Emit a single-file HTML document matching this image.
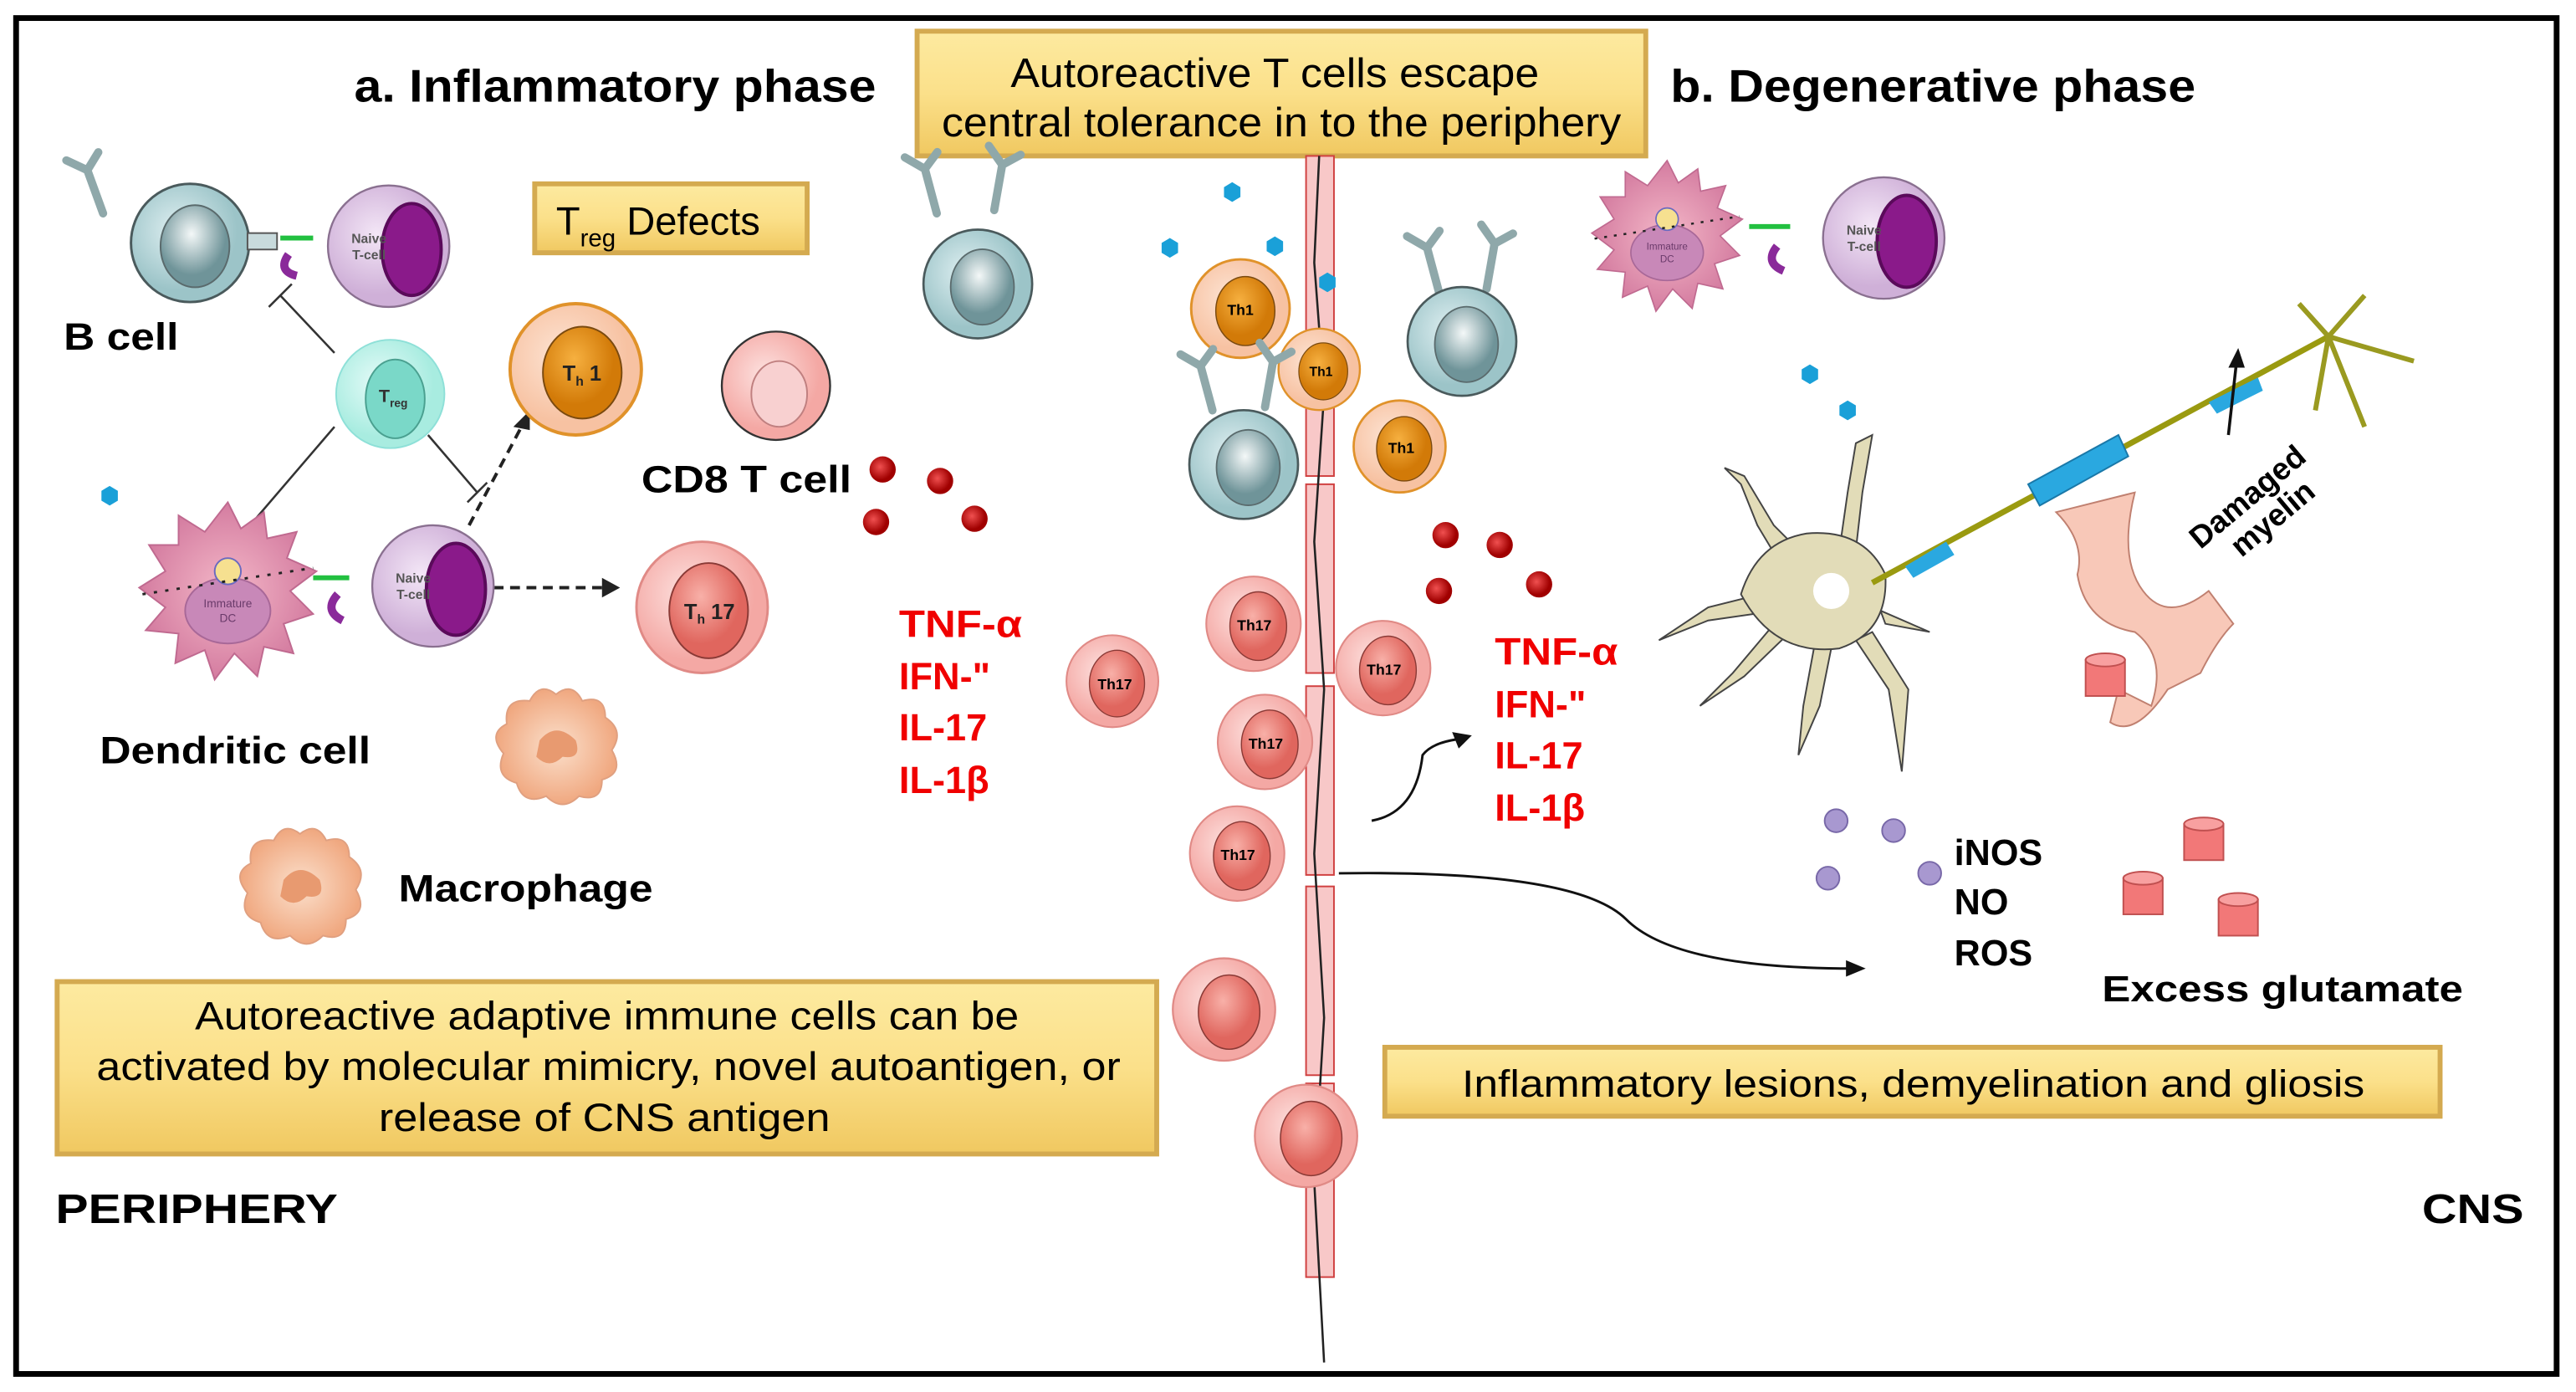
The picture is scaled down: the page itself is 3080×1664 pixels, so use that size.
<!DOCTYPE html>
<html><head><meta charset="utf-8"><style>
html,body{margin:0;padding:0;background:#fff}
svg{display:block}
text{font-family:"Liberation Sans",Arial,sans-serif}
.b{font-weight:bold}
</style></head><body>
<svg width="3080" height="1664" viewBox="0 0 1568 848" xmlns="http://www.w3.org/2000/svg">
<defs>
<linearGradient id="gold" x1="0" y1="0" x2="0" y2="1"><stop offset="0" stop-color="#fdeaa0"/><stop offset=".5" stop-color="#fbe08a"/><stop offset="1" stop-color="#f0c860"/></linearGradient>
<radialGradient id="bc" cx=".4" cy=".4"><stop offset="0" stop-color="#e0f0f2"/><stop offset="1" stop-color="#9cc4c8"/></radialGradient>
<radialGradient id="bn" cx=".45" cy=".35"><stop offset="0" stop-color="#f4f8f8"/><stop offset="1" stop-color="#6f9499"/></radialGradient>
<radialGradient id="pu" cx=".4" cy=".4"><stop offset="0" stop-color="#f3e6f6"/><stop offset="1" stop-color="#cfb0d8"/></radialGradient>
<radialGradient id="or" cx=".4" cy=".4"><stop offset="0" stop-color="#fde4d4"/><stop offset="1" stop-color="#f7c2a2"/></radialGradient>
<radialGradient id="orn" cx=".4" cy=".35"><stop offset="0" stop-color="#f6b040"/><stop offset="1" stop-color="#d27a08"/></radialGradient>
<radialGradient id="pk" cx=".4" cy=".4"><stop offset="0" stop-color="#fde2e0"/><stop offset="1" stop-color="#f4a8a4"/></radialGradient>
<radialGradient id="pkn" cx=".4" cy=".35"><stop offset="0" stop-color="#f8b0a8"/><stop offset="1" stop-color="#e0665e"/></radialGradient>
<radialGradient id="cy" cx=".4" cy=".4"><stop offset="0" stop-color="#e6fbf8"/><stop offset="1" stop-color="#a8ece0"/></radialGradient>
<radialGradient id="dc" cx=".5" cy=".5"><stop offset="0" stop-color="#f4b8c8"/><stop offset="1" stop-color="#d47ca0"/></radialGradient>
<radialGradient id="macg" cx=".5" cy=".5"><stop offset="0" stop-color="#fbe0cc"/><stop offset="1" stop-color="#f0a880"/></radialGradient>
<radialGradient id="rd" cx=".4" cy=".4"><stop offset="0" stop-color="#f05050"/><stop offset="1" stop-color="#a00000"/></radialGradient>
<g id="bcell"><circle r="36" fill="url(#bc)" stroke="#4a5a5c" stroke-width="1.5"/><ellipse cx="3" cy="2" rx="21" ry="25" fill="url(#bn)" stroke="#5a6a6c"/></g>
<g id="ab" stroke="#8fa8aa" stroke-width="5" fill="none" stroke-linecap="round"><path d="M0 0 L0 -28 M0 -28 L-10 -38 M0 -28 L10 -36"/></g>
<g id="naive"><circle r="37" fill="url(#pu)" stroke="#8a7090" stroke-width="1.2"/><ellipse cx="14" cy="2" rx="18" ry="28" fill="#8a1a8a" stroke="#5a0a5a" stroke-width="2"/><text x="-12" y="-2" font-size="8" font-weight="bold" fill="#555" text-anchor="middle">Naive</text><text x="-12" y="8" font-size="8" font-weight="bold" fill="#555" text-anchor="middle">T-cell</text></g>
<g id="th1"><circle r="40" fill="url(#or)" stroke="#e0922a" stroke-width="2"/><ellipse cx="4" cy="2" rx="24" ry="28" fill="url(#orn)" stroke="#7a4a10"/></g>
<g id="th17"><circle r="40" fill="url(#pk)" stroke="#e08a86" stroke-width="1.5"/><ellipse cx="4" cy="2" rx="24" ry="29" fill="url(#pkn)" stroke="#8a3a36"/></g>
<g id="rdot"><circle r="8" fill="url(#rd)"/></g>
<g id="dcell"><path d="M0 -52 L8 -36 L22 -46 L24 -30 L42 -34 L36 -18 L54 -10 L38 2 L52 16 L34 22 L40 40 L22 36 L18 54 L4 40 L-8 56 L-14 38 L-32 46 L-30 28 L-50 26 L-38 12 L-54 0 L-38 -10 L-48 -26 L-30 -26 L-30 -44 L-14 -34 Z" fill="url(#dc)" stroke="#c06a90"/><ellipse cx="0" cy="14" rx="26" ry="20" fill="#c888b8" stroke="#a86898"/><text x="0" y="12" font-size="7" text-anchor="middle" fill="#6a3a6a">Immature</text><text x="0" y="21" font-size="7" text-anchor="middle" fill="#6a3a6a">DC</text><circle cx="0" cy="-10" r="8" fill="#f6e090" stroke="#6a6ac0"/><path d="M-52 4 L52 -12" stroke="#222" stroke-width="1.5" stroke-dasharray="2 5"/></g>
<g id="macro"><path d="M0 -32 Q10 -40 16 -28 Q30 -32 30 -18 Q42 -10 34 2 Q42 16 28 20 Q28 34 14 30 Q4 40 -6 30 Q-20 36 -24 22 Q-38 18 -32 4 Q-42 -8 -30 -14 Q-32 -30 -16 -28 Q-10 -40 0 -32Z" fill="url(#macg)" stroke="#e0a080"/><path d="M-10 -4 Q0 -16 12 -4 Q16 8 4 6 Q-4 14 -12 6 Z" fill="#e89a70"/></g>
<g id="bd"><path d="M0 -6 L5 -3 L5 3 L0 6 L-5 3 L-5 -3Z" fill="#1aa0d8"/></g>
<g id="pd"><circle r="7" fill="#a898d0" stroke="#7868a8"/></g>
<g id="cyl"><rect x="-12" y="-10" width="24" height="22" fill="#f27878" stroke="#c05050"/><ellipse cx="0" cy="-10" rx="12" ry="4" fill="#f8a0a0" stroke="#c05050"/></g>
</defs>
<rect x="9" y="11" width="1548" height="826" fill="#fff" stroke="#000" stroke-width="3.5"/>

<text x="215" y="62" font-size="28" class="b" textLength="318" lengthAdjust="spacingAndGlyphs">a. Inflammatory phase</text>
<text x="1017" y="62" font-size="28" class="b" textLength="320" lengthAdjust="spacingAndGlyphs">b. Degenerative phase</text>
<rect x="558" y="19" width="444" height="76" fill="url(#gold)" stroke="#d4aa50" stroke-width="3"/>
<text x="615" y="53" font-size="25" textLength="322" lengthAdjust="spacingAndGlyphs">Autoreactive T cells escape</text>
<text x="573" y="83" font-size="25" textLength="414" lengthAdjust="spacingAndGlyphs">central tolerance in to the periphery</text>

<rect x="325" y="112" width="166" height="42" fill="url(#gold)" stroke="#d4aa50" stroke-width="3"/>
<text x="338" y="143" font-size="24">T<tspan font-size="15" dy="7">reg</tspan><tspan dy="-7"> Defects</tspan></text>

<use href="#ab" x="62" y="130" transform="rotate(-20 62 130)"/>
<use href="#bcell" x="115" y="148"/>
<rect x="150" y="142" width="18" height="10" fill="#c8dadc" stroke="#555"/>
<path d="M170 145 L190 145" stroke="#22c040" stroke-width="3"/>
<path d="M175 155 Q168 165 180 168" stroke="#8a2a9a" stroke-width="5" fill="none"/>
<use href="#naive" x="236" y="150"/>
<text x="38" y="213" font-size="23" class="b" textLength="70" lengthAdjust="spacingAndGlyphs">B cell</text>

<circle cx="237" cy="240" r="33" fill="url(#cy)" stroke="#8ee0d8"/>
<ellipse cx="240" cy="243" rx="18" ry="24" fill="#7ad8c8" stroke="#4aa090"/>
<text x="230" y="245" font-size="11" font-weight="bold" fill="#333">T<tspan font-size="7" dy="3">reg</tspan></text>
<g stroke="#333" stroke-width="1.3" fill="none">
<path d="M203 215 L170 180 M163 187 L177 173"/>
<path d="M203 260 L143 330 M136 323 L150 337"/>
<path d="M260 265 L290 300 M284 306 L296 294"/>
</g>
<path d="M285 320 L318 258" stroke="#222" stroke-width="2" stroke-dasharray="6 4"/>
<path d="M322 250 L312 260 L322 262Z" fill="#222"/>
<path d="M300 358 L368 358" stroke="#222" stroke-width="2" stroke-dasharray="6 4"/>
<path d="M377 358 L366 352 L366 364Z" fill="#222"/>

<use href="#th1" x="350" y="225"/>
<text x="342" y="232" font-size="13" font-weight="bold" fill="#222">T<tspan font-size="8" dy="3">h</tspan><tspan dy="-3"> 1</tspan></text>
<circle cx="472" cy="235" r="33" fill="url(#pk)" stroke="#333" stroke-width="1.2"/>
<ellipse cx="474" cy="240" rx="17" ry="20" fill="#f8d0d0" stroke="#c08080"/>
<text x="390" y="300" font-size="23" class="b" textLength="128" lengthAdjust="spacingAndGlyphs">CD8 T cell</text>
<use href="#rdot" x="537" y="286"/><use href="#rdot" x="572" y="293"/><use href="#rdot" x="533" y="318"/><use href="#rdot" x="593" y="316"/>

<use href="#bd" x="66" y="302"/>
<use href="#dcell" x="138" y="358"/>
<path d="M190 352 L212 352" stroke="#22c040" stroke-width="3"/>
<path d="M205 362 Q196 372 208 378" stroke="#8a2a9a" stroke-width="5" fill="none"/>
<use href="#naive" x="263" y="357"/>
<text x="60" y="465" font-size="23" class="b" textLength="165" lengthAdjust="spacingAndGlyphs">Dendritic cell</text>

<use href="#th17" x="427" y="370"/>
<text x="416" y="377" font-size="13" font-weight="bold" fill="#222">T<tspan font-size="8" dy="3">h</tspan><tspan dy="-3"> 17</tspan></text>
<use href="#macro" x="338" y="455"/>
<use href="#macro" x="182" y="540"/>
<text x="242" y="549" font-size="23" class="b" textLength="155" lengthAdjust="spacingAndGlyphs">Macrophage</text>

<g font-size="23" font-weight="bold" fill="#f00000">
<text x="547" y="388" textLength="75" lengthAdjust="spacingAndGlyphs">TNF-α</text><text x="547" y="420">IFN-"</text><text x="547" y="451">IL-17</text><text x="547" y="483">IL-1β</text>
<text x="910" y="405" textLength="75" lengthAdjust="spacingAndGlyphs">TNF-α</text><text x="910" y="437">IFN-"</text><text x="910" y="468">IL-17</text><text x="910" y="500">IL-1β</text>
</g>

<g transform="translate(677 415) scale(.7)"><use href="#th17"/></g>
<text x="668" y="420" font-size="9" font-weight="bold">Th17</text>

<rect x="34" y="598" width="670" height="105" fill="url(#gold)" stroke="#d4aa50" stroke-width="3"/>
<g font-size="24"><text x="118" y="627" textLength="502" lengthAdjust="spacingAndGlyphs">Autoreactive adaptive immune cells can be</text><text x="58" y="658" textLength="624" lengthAdjust="spacingAndGlyphs">activated by molecular mimicry, novel autoantigen, or</text><text x="230" y="689" textLength="275" lengthAdjust="spacingAndGlyphs">release of CNS antigen</text></g>
<text x="33" y="745" font-size="25" class="b" textLength="172" lengthAdjust="spacingAndGlyphs">PERIPHERY</text>
<text x="1475" y="745" font-size="25" class="b" textLength="62" lengthAdjust="spacingAndGlyphs">CNS</text>

<g fill="#f8c8c8" stroke="#d04040" stroke-width="1">
<rect x="795" y="95" width="17" height="195"/><rect x="795" y="295" width="17" height="115"/><rect x="795" y="418" width="17" height="115"/><rect x="795" y="540" width="17" height="115"/><rect x="795" y="660" width="17" height="118"/>
</g>
<path d="M803 95 L800 160 L806 240 L800 330 L806 420 L800 520 L806 620 L800 720 L806 830" stroke="#222" stroke-width="1.3" fill="none"/>

<g transform="translate(755 188) scale(.75)"><use href="#th1"/></g>
<g transform="translate(803 225) scale(.62)"><use href="#th1"/></g>
<g transform="translate(852 272) scale(.7)"><use href="#th1"/></g>
<text x="747" y="192" font-size="9" font-weight="bold">Th1</text>
<text x="797" y="229" font-size="8" font-weight="bold">Th1</text>
<text x="845" y="276" font-size="9" font-weight="bold">Th1</text>
<use href="#ab" x="738" y="250" transform="rotate(-15 738 250)"/><use href="#ab" x="770" y="248" transform="rotate(10 770 248)"/>
<g transform="translate(757 283) scale(.92)"><use href="#bcell"/></g>
<use href="#ab" x="876" y="178" transform="rotate(-15 876 178)"/><use href="#ab" x="905" y="176" transform="rotate(10 905 176)"/>
<g transform="translate(890 208) scale(.92)"><use href="#bcell"/></g>
<use href="#ab" x="570" y="130" transform="rotate(-15 570 130)"/><use href="#ab" x="605" y="128" transform="rotate(10 605 128)"/>
<g transform="translate(595 173) scale(.92)"><use href="#bcell"/></g>
<g transform="translate(763 380) scale(.72)"><use href="#th17"/></g>
<g transform="translate(842 407) scale(.72)"><use href="#th17"/></g>
<g transform="translate(770 452) scale(.72)"><use href="#th17"/></g>
<g transform="translate(753 520) scale(.72)"><use href="#th17"/></g>
<g font-size="9" font-weight="bold"><text x="753" y="384">Th17</text><text x="832" y="411">Th17</text><text x="760" y="456">Th17</text><text x="743" y="524">Th17</text></g>
<g transform="translate(745 615) scale(.78)"><use href="#th17"/></g>
<g transform="translate(795 692) scale(.78)"><use href="#th17"/></g>
<use href="#bd" x="750" y="117"/><use href="#bd" x="712" y="151"/><use href="#bd" x="776" y="150"/><use href="#bd" x="808" y="172"/><use href="#bd" x="1102" y="228"/><use href="#bd" x="1125" y="250"/>
<use href="#rdot" x="880" y="326"/><use href="#rdot" x="913" y="332"/><use href="#rdot" x="876" y="360"/><use href="#rdot" x="937" y="356"/>

<path d="M835 500 Q862 495 866 460 Q872 452 890 450" stroke="#111" stroke-width="1.5" fill="none"/>
<path d="M896 448 L884 446 L888 456Z" fill="#111"/>
<path d="M815 532 Q960 530 990 560 Q1020 590 1128 590" stroke="#111" stroke-width="1.5" fill="none"/>
<path d="M1136 590 L1124 585 L1124 595Z" fill="#111"/>

<g transform="translate(1015 142) scale(.85)"><use href="#dcell"/></g>
<path d="M1065 138 L1090 138" stroke="#22c040" stroke-width="3"/>
<path d="M1082 150 Q1074 160 1086 165" stroke="#8a2a9a" stroke-width="5" fill="none"/>
<use href="#naive" x="1147" y="145"/>

<!-- neuron -->
<g stroke="#444" stroke-width="1" fill="#e2dcb8">
<path d="M1085 345 L1070 320 L1060 295 L1050 285 L1062 290 L1080 320 L1095 335 Z"/>
<path d="M1120 335 L1125 300 L1130 270 L1140 265 L1134 300 L1130 335 Z"/>
<path d="M1080 360 L1040 370 L1010 390 L1040 378 L1082 372 Z"/>
<path d="M1082 378 L1055 410 L1035 430 L1062 412 L1090 385 Z"/>
<path d="M1105 392 L1098 430 L1095 460 L1108 430 L1115 395 Z"/>
<path d="M1130 390 L1150 420 L1158 470 L1162 420 L1140 385 Z"/>
<path d="M1145 372 L1175 385 L1148 380 Z"/>
<path d="M1060 362 Q1070 330 1100 325 Q1135 322 1148 350 Q1150 385 1120 395 Q1080 400 1060 362Z"/>
</g>
<circle cx="1115" cy="360" r="11" fill="#fff"/>
<path d="M1140 355 L1418 205" stroke="#9a9a10" stroke-width="3.5"/>
<path d="M1418 205 L1400 185 M1418 205 L1440 180 M1418 205 L1470 220 M1418 205 L1440 260 M1418 205 L1410 250" stroke="#9a9a20" stroke-width="3"/>
<path d="M1235 295 L1290 265 L1296 278 L1242 308Z" fill="#2aa8e0" stroke="#1a78a8"/>
<path d="M1160 345 L1185 330 L1190 338 L1165 352Z" fill="#2aa8e0"/>
<path d="M1345 245 L1375 230 L1378 238 L1350 252Z" fill="#2aa8e0"/>
<path d="M1252 312 Q1270 330 1265 350 Q1270 380 1300 385 Q1320 400 1310 430 L1290 420 L1285 440 Q1300 450 1320 420 L1340 410 Q1350 390 1360 380 L1345 360 Q1320 380 1305 360 Q1290 340 1300 300 Z" fill="#f8c8b8" stroke="#c08070" stroke-width="1"/>
<use href="#cyl" x="1282" y="412"/>
<path d="M1357 265 L1362 220" stroke="#111" stroke-width="1.8"/><path d="M1363 212 L1357 224 L1367 224Z" fill="#111"/>
<text x="1340" y="335" font-size="19" font-weight="bold" transform="rotate(-40 1340 335)">Damaged</text>
<text x="1365" y="340" font-size="19" font-weight="bold" transform="rotate(-40 1365 340)">myelin</text>

<use href="#pd" x="1118" y="500"/><use href="#pd" x="1153" y="506"/><use href="#pd" x="1113" y="535"/><use href="#pd" x="1175" y="532"/>
<g font-size="22" font-weight="bold"><text x="1190" y="527">iNOS</text><text x="1190" y="557">NO</text><text x="1190" y="588">ROS</text><text x="1280" y="610" textLength="220" lengthAdjust="spacingAndGlyphs">Excess glutamate</text></g>
<use href="#cyl" x="1342" y="512"/><use href="#cyl" x="1305" y="545"/><use href="#cyl" x="1363" y="558"/>

<rect x="843" y="638" width="643" height="42" fill="url(#gold)" stroke="#d4aa50" stroke-width="3"/>
<text x="890" y="668" font-size="23" textLength="550" lengthAdjust="spacingAndGlyphs">Inflammatory lesions, demyelination and gliosis</text>
</svg>
</body></html>
